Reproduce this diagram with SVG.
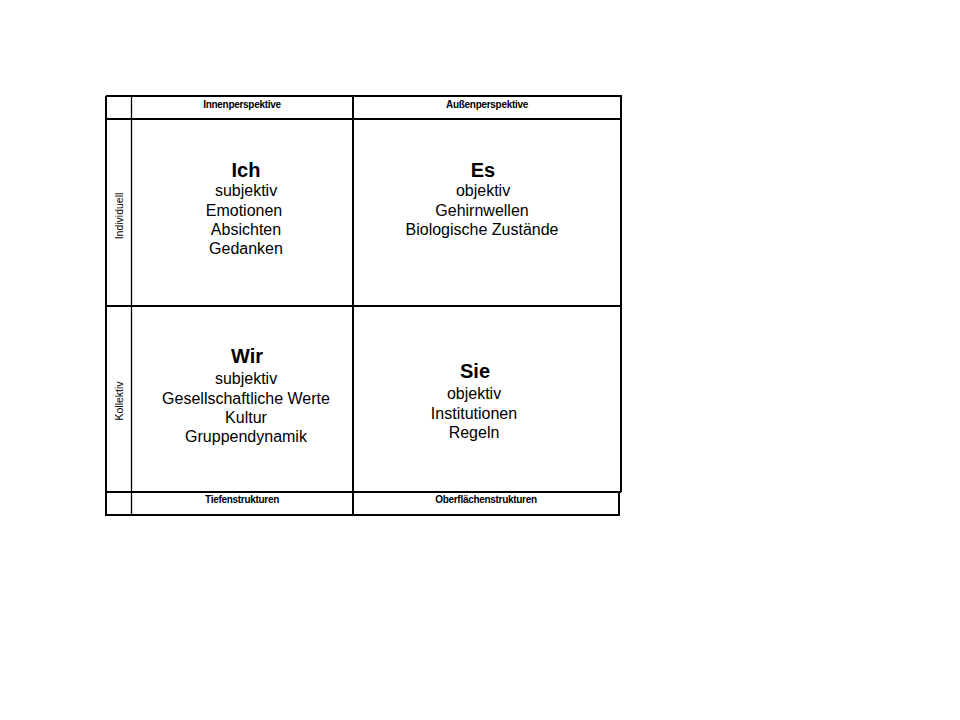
<svg xmlns="http://www.w3.org/2000/svg" width="960" height="720" viewBox="0 0 960 720">
<style>
.ln{stroke:#000;stroke-width:2;fill:none}
.thin{stroke:#000;stroke-width:1.3;fill:none}
.hd{font-family:"Liberation Sans",Arial,sans-serif;font-size:10px;font-weight:bold;text-anchor:middle;fill:#000;letter-spacing:-0.3px}
.side{font-family:"Liberation Sans",Arial,sans-serif;font-size:10.5px;text-anchor:middle;fill:#000}
.tt{font-family:"Liberation Sans",Arial,sans-serif;font-size:20px;font-weight:bold;text-anchor:middle;fill:#000}
.bd{font-family:"Liberation Sans",Arial,sans-serif;font-size:16px;text-anchor:middle;fill:#000}
</style>
<rect width="960" height="720" fill="#fff"/>
<g id="grid">
<path class="ln" d="M106 96 H621 V492 M106 96 V515 H619 V492 M106 119 H621 M106 306 H621 M106 492 H621 M353 96 V515"/>
<path class="thin" d="M131.5 96 V515"/>
</g>
<g id="headers">
<text class="hd" x="242" y="108">Innenperspektive</text>
<text class="hd" x="487" y="108">Außenperspektive</text>
<text class="hd" x="242" y="503">Tiefenstrukturen</text>
<text class="hd" x="486" y="503">Oberflächenstrukturen</text>
<text class="side" transform="translate(123 216) rotate(-90)">Individuell</text>
<text class="side" transform="translate(123 401) rotate(-90)">Kollektiv</text>
</g>
<g id="ich">
<text class="tt" x="246" y="177">Ich</text>
<text class="bd" x="246" y="196">subjektiv</text>
<text class="bd" x="244" y="216">Emotionen</text>
<text class="bd" x="246" y="235">Absichten</text>
<text class="bd" x="246" y="254">Gedanken</text>
</g>
<g id="es">
<text class="tt" x="483" y="177">Es</text>
<text class="bd" x="483" y="196">objektiv</text>
<text class="bd" x="482" y="216">Gehirnwellen</text>
<text class="bd" x="482" y="235">Biologische Zustände</text>
</g>
<g id="wir">
<text class="tt" x="247" y="363">Wir</text>
<text class="bd" x="246" y="384">subjektiv</text>
<text class="bd" x="246" y="404">Gesellschaftliche Werte</text>
<text class="bd" x="246" y="423">Kultur</text>
<text class="bd" x="246" y="442">Gruppendynamik</text>
</g>
<g id="sie">
<text class="tt" x="475" y="378">Sie</text>
<text class="bd" x="474" y="399">objektiv</text>
<text class="bd" x="474" y="419">Institutionen</text>
<text class="bd" x="474" y="438">Regeln</text>
</g>
</svg>
